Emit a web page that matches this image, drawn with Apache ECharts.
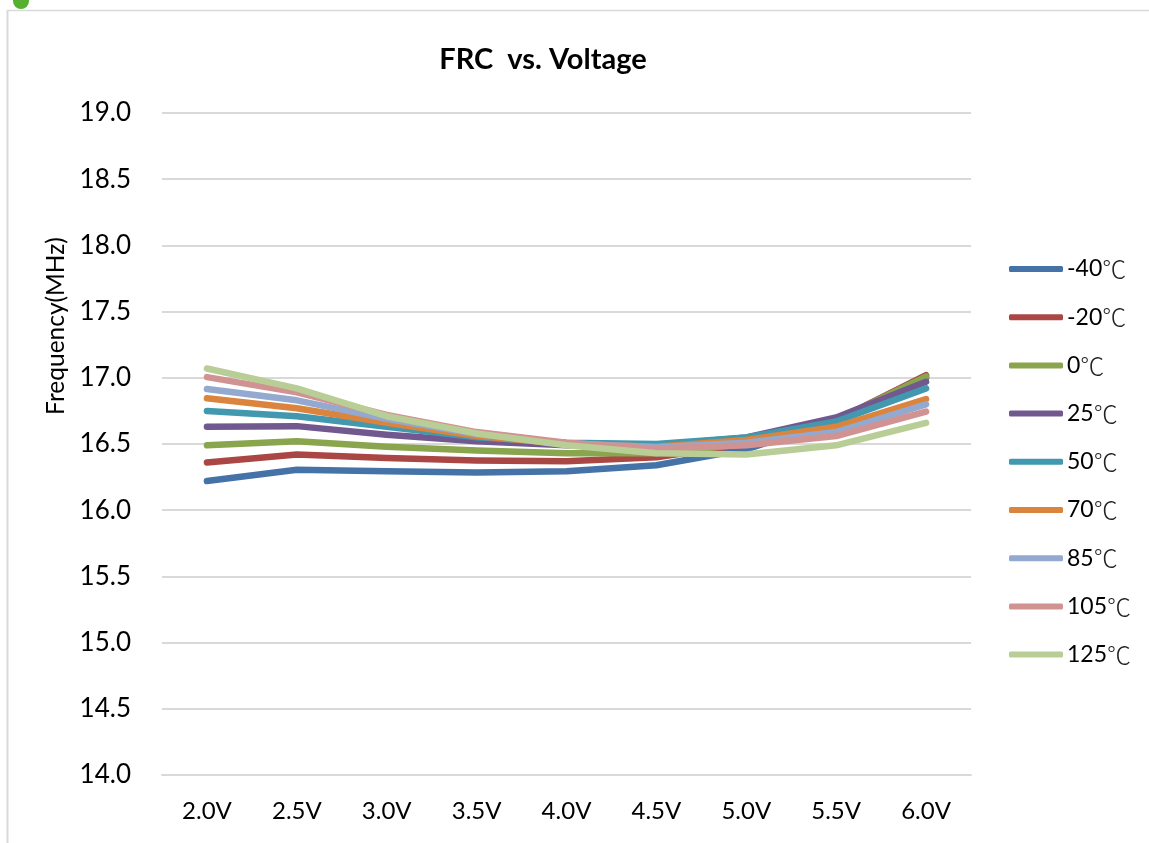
<!DOCTYPE html>
<html><head><meta charset="utf-8">
<style>html,body{margin:0;padding:0;background:#fff}#c{width:1149px;height:843px}</style>
<script src="https://cdn.jsdelivr.net/npm/echarts@6/dist/echarts.min.js"></script>
</head><body><div id="c"></div>
<script>
const categories = ['2.0V','2.5V','3.0V','3.5V','4.0V','4.5V','5.0V','5.5V','6.0V'];
const seriesNames = ['-40℃','-20℃','0℃','25℃','50℃','70℃','85℃','105℃','125℃'];
const colors = ['#4573A7','#AA4644','#89A54E','#71588F','#4298AF','#DB843D','#93A9CF','#D19392','#B9CD96'];
const tMinus40 = [16.22,16.305,16.295,16.285,16.295,16.34,16.46,16.68,17.0];
const tMinus20 = [16.36,16.42,16.395,16.375,16.37,16.40,16.50,16.68,17.02];
const t0 = [16.49,16.52,16.48,16.45,16.43,16.43,16.50,16.68,17.01];
const t25 = [16.63,16.635,16.57,16.52,16.49,16.49,16.55,16.70,16.97];
const t50 = [16.75,16.71,16.63,16.55,16.51,16.50,16.55,16.67,16.92];
const t70 = [16.845,16.77,16.66,16.56,16.50,16.48,16.53,16.63,16.84];
const t85 = [16.915,16.83,16.69,16.575,16.505,16.475,16.51,16.59,16.80];
const t105 = [17.005,16.89,16.72,16.59,16.51,16.465,16.49,16.56,16.745];
const t125 = [17.07,16.92,16.71,16.58,16.49,16.43,16.42,16.49,16.66];
const allValues = [tMinus40,tMinus20,t0,t25,t50,t70,t85,t105,t125];
const FONT = 'Lato, "Noto Sans CJK SC", sans-serif';
const chart = echarts.init(document.getElementById('c'), null, {renderer:'canvas'});
chart.setOption({
  animation:false,
  backgroundColor:'#fff',
  color:colors,
  title:{text:'FRC  vs. Voltage',left:538,top:40,textAlign:'center',
    textStyle:{fontFamily:FONT,fontSize:29,fontWeight:'bold',color:'#000'}},
  legend:{orient:'vertical',left:1009,top:255,padding:0,itemWidth:54,itemHeight:6,itemGap:20.2,
    icon:'roundRect',
    data:seriesNames,
    formatter:n=>'{a|'+n.replace('℃','')+'}{b|℃}',
    textStyle:{fontFamily:FONT,fontSize:23,color:'#000',lineHeight:28,padding:[0,0,0,-1],
      rich:{a:{fontFamily:FONT,fontSize:23,color:'#000',lineHeight:28},
            b:{fontFamily:'"Noto Sans CJK SC"',fontSize:24,fontWeight:300,color:'#222',lineHeight:28}}}},
  grid:{left:162,right:178,top:113,bottom:68},
  xAxis:{type:'category',data:categories,boundaryGap:true,
    axisTick:{show:false},
    axisLine:{lineStyle:{color:'#d9d9d9',width:2}},
    axisLabel:{fontFamily:FONT,fontSize:24,color:'#000',margin:24}},
  yAxis:{type:'value',min:14,max:19,interval:0.5,
    axisLine:{show:false},axisTick:{show:false},
    splitLine:{lineStyle:{color:'#d9d9d9',width:2}},
    axisLabel:{fontFamily:FONT,fontSize:26,color:'#000',margin:31,padding:[3,0,0,0],formatter:v=>v.toFixed(1)}},
  series:seriesNames.map((n,i)=>({name:n,type:'line',data:allValues[i],symbol:'none',
    lineStyle:{width:6.5,cap:'round',join:'round'},itemStyle:{color:colors[i]}})),
  graphic:[
    {type:'line',silent:true,shape:{x1:7,y1:10.5,x2:1149,y2:10.5},style:{stroke:'#d9d9d9',lineWidth:1.5}},
    {type:'line',silent:true,shape:{x1:7.5,y1:10,x2:7.5,y2:843},style:{stroke:'#d9d9d9',lineWidth:2}},
    {type:'circle',silent:true,shape:{cx:21,cy:1,r:8},style:{fill:'#55b030'}},
    {type:'text',silent:true,x:56,y:326,rotation:Math.PI/2,
      style:{text:'Frequency(MHz)',fontFamily:FONT,fontSize:24.5,fill:'#000',align:'center',verticalAlign:'middle'}}
  ]
});
</script></body></html>
